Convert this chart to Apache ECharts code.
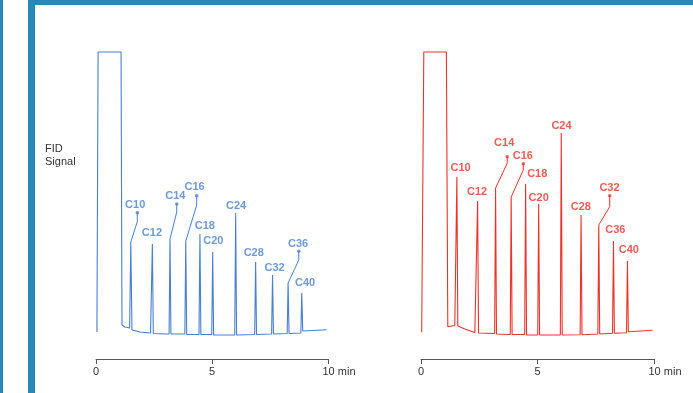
<!DOCTYPE html>
<html>
<head>
<meta charset="utf-8">
<script src="https://cdn.jsdelivr.net/npm/echarts@6/dist/echarts.min.js"></script>
<style>
html,body{margin:0;padding:0;background:#fff;}
#c{width:693px;height:393px;}
</style>
</head>
<body>
<div id="c"></div>
<script>
// ---------- data (time in min, signal in arbitrary units) ----------
const xTicks = [0, 5, 10];
const peakNames = ['C10','C12','C14','C16','C18','C20','C24','C28','C32','C36','C40'];

// Left (blue) chromatogram trace
const blueTrace = [
  [0.04,3],[0.09,283],[1.08,283],[1.12,10],[1.25,8],[1.45,7],[1.50,93],[1.55,5],
  [1.90,3],[2.35,2],[2.40,2],[2.43,91],[2.47,1.5],[3.00,1],[3.15,1],[3.19,96],[3.23,1],
  [3.83,1],[3.87,94],[3.91,0.5],[4.44,0.5],[4.48,101],[4.52,0.5],[4.99,0.5],[5.03,83],[5.07,0],
  [5.98,0],[6.02,122],[6.06,0],[6.84,0.5],[6.88,73],[6.92,0.5],[7.57,1],[7.61,60],[7.65,1],
  [8.24,1.5],[8.28,52],[8.32,1.5],[8.83,2],[8.87,42],[8.91,4],[9.94,5.3]
];
const bluePeakT = [1.50,2.43,3.19,3.87,4.48,5.03,6.02,6.88,7.61,8.28,8.87];
const bluePeakV = [93,91,96,94,101,83,122,73,60,52,42];
const blueLabelT = [1.69,2.41,3.42,4.25,4.69,5.06,6.04,6.80,7.70,8.71,9.01];
const blueLabelV = [130,101.7,139.3,147.7,109,94,129,82.3,66.7,91,51.7];
const blueLeaderNames = ['C10','C14','C16','C36'];
const blueLeaderDotT = [1.78,3.48,4.34,8.74];
const blueLeaderDotV = [122.3,131,139.3,83.7];
const blueLeaderBendV = [113.3,123,130,75];

// Right (red) chromatogram trace
const redTrace = [
  [0.03,2.7],[0.12,283],[1.09,283],[1.15,8.3],[1.45,9.5],[1.50,10],[1.54,158],[1.58,9],
  [1.88,6],[2.31,2.5],[2.39,3],[2.43,134],[2.47,2],[3.16,1.5],[3.20,147],[3.24,1],
  [3.83,0.5],[3.87,138],[3.91,0.5],[4.45,0.5],[4.49,151],[4.53,0],[5.01,0],[5.05,131],[5.09,0],
  [5.98,0],[6.02,202],[6.06,0],[6.83,0.3],[6.87,120],[6.91,0.3],[7.59,1],[7.63,110],[7.67,1],
  [8.22,1.7],[8.26,94],[8.30,1.7],[8.82,2.3],[8.86,74],[8.90,3.3],[9.94,4.7]
];
const redPeakT = [1.54,2.43,3.20,3.87,4.49,5.05,6.02,6.87,7.63,8.26,8.86];
const redPeakV = [158,134,147,138,151,131,202,120,110,94,74];
const redLabelT = [1.70,2.41,3.57,4.37,4.99,5.05,6.03,6.86,8.09,8.34,8.92];
const redLabelV = [166.7,142.7,191.7,179,161,136.7,209,127.7,146.7,105,85];
const redLeaderNames = ['C14','C16','C32'];
const redLeaderDotT = [3.70,4.39,8.10];
const redLeaderDotV = [178.3,171.3,139.3];
const redLeaderBendV = [171.7,165,128.3];

// ---------- styling ----------
const BLUE = '#4A7FCB';
const RED = '#E8342C';
const FRAME = '#2A88B6';
const FONT = '"Liberation Sans", Arial, Helvetica, sans-serif';

function xAxisFor(gi){
  return {
    gridIndex: gi, type:'value', min:0, max:10, interval:5,
    axisLine:{onZero:false, lineStyle:{color:'#555', width:1}},
    axisTick:{show:true, length:5, lineStyle:{color:'#555'}},
    splitLine:{show:false},
    axisLabel:{
      margin:7, color:'#333', fontSize:11, fontFamily:FONT,
      formatter: v => v === 10 ? '{m|' + v + ' min}' : String(v),
      rich:{ m:{ padding:[0,0,0,22], color:'#333', fontSize:11, fontFamily:FONT } }
    }
  };
}
function yAxisFor(gi){
  return { gridIndex: gi, type:'value', min:-24, max:285, show:false };
}

function seriesFor(gi, color, trace, peakT, peakV, labelT, labelV, lNames, lDotT, lDotV, lBendV){
  const out = [];
  out.push({
    type:'line', xAxisIndex:gi, yAxisIndex:gi, data:trace, symbol:'none',
    lineStyle:{color:color, width:1.1}, animation:false, silent:true
  });
  lNames.forEach((nm, i) => {
    const k = peakNames.indexOf(nm);
    out.push({
      type:'line', xAxisIndex:gi, yAxisIndex:gi, symbol:'none', animation:false, silent:true,
      lineStyle:{color:color, width:1},
      data:[[peakT[k], peakV[k]], [lDotT[i], lBendV[i]], [lDotT[i], lDotV[i]]]
    });
  });
  out.push({
    type:'scatter', xAxisIndex:gi, yAxisIndex:gi, symbol:'circle', symbolSize:3.5,
    itemStyle:{color:color}, animation:false, silent:true,
    data: lNames.map((nm, i) => [lDotT[i], lDotV[i]])
  });
  out.push({
    type:'scatter', xAxisIndex:gi, yAxisIndex:gi, symbolSize:1,
    itemStyle:{color:'rgba(0,0,0,0)'}, animation:false, silent:true,
    label:{
      show:true, position:'inside', color:color, fontSize:11, fontWeight:'bold', fontFamily:FONT,
      formatter: p => p.data[2]
    },
    data: peakNames.map((nm, i) => [labelT[i], labelV[i], nm])
  });
  return out;
}

const chart = echarts.init(document.getElementById('c'), null, {renderer:'canvas'});
chart.setOption({
  backgroundColor:'#fff',
  animation:false,
  grid:[
    {left:96, width:232, top:50, height:309},
    {left:421, width:233, top:50, height:309}
  ],
  xAxis:[xAxisFor(0), xAxisFor(1)],
  yAxis:[yAxisFor(0), yAxisFor(1)],
  series:[].concat(
    seriesFor(0, BLUE, blueTrace, bluePeakT, bluePeakV, blueLabelT, blueLabelV, blueLeaderNames, blueLeaderDotT, blueLeaderDotV, blueLeaderBendV),
    seriesFor(1, RED, redTrace, redPeakT, redPeakV, redLabelT, redLabelV, redLeaderNames, redLeaderDotT, redLeaderDotV, redLeaderBendV)
  ),
  graphic:[
    {type:'rect', shape:{x:0, y:0, width:3, height:393}, style:{fill:FRAME}, silent:true},
    {type:'rect', shape:{x:28, y:0, width:7, height:393}, style:{fill:FRAME}, silent:true},
    {type:'rect', shape:{x:28, y:0, width:665, height:5}, style:{fill:FRAME}, silent:true},
    {type:'text', left:45, top:143, style:{text:'FID\nSignal', fill:'#333', font:'11px ' + FONT, lineHeight:12.5}, silent:true}
  ]
});
</script>
</body>
</html>
